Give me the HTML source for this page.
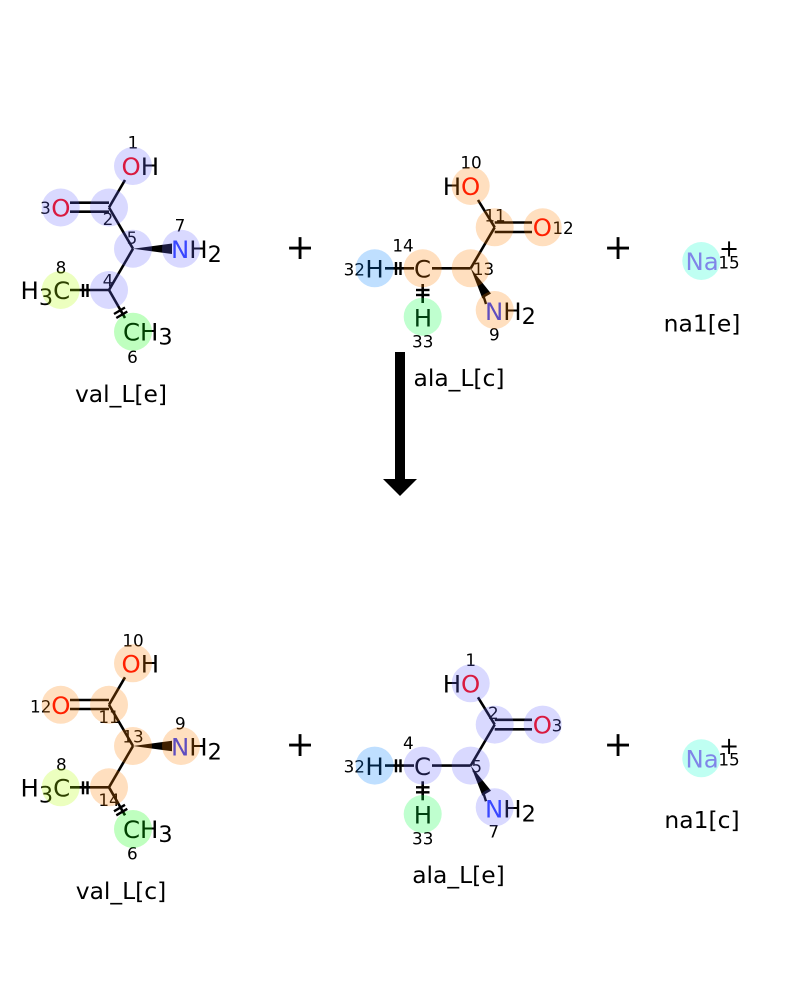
<!DOCTYPE html>
<html>
<head>
<meta charset="utf-8">
<style>
html,body{margin:0;padding:0;background:#fff;}
svg{display:block;}
text{font-family:"DejaVu Sans","Liberation Sans",sans-serif;fill:#000;}
.a{font-size:24.4px;}
.s{font-size:22.4px;}
.n{font-size:16.8px;text-anchor:middle;}
.l{font-size:23.4px;text-anchor:middle;}
.p{font-size:35px;text-anchor:middle;}
.O{fill:#ff0000;}
.N{fill:#2a3cff;}
.Na{fill:#ab5cf2;}
line{stroke:#000;stroke-width:2.6;fill:none;}
.t{stroke-width:2.4;}
circle{fill-opacity:.25;}
.v{fill:#6767ff;}
.o{fill:#ff7f00;}
.y{fill:#b3ff00;}
.g{fill:#00ff00;}
.b{fill:#007fff;}
.h{fill:#00ff40;}
.c{fill:#00ffcc;}
</style>
</head>
<body>
<svg width="800" height="1000" viewBox="0 0 800 1000" xmlns="http://www.w3.org/2000/svg">
<rect width="800" height="1000" fill="#fff"/>
<defs>
<g id="m1">
<line x1="125" y1="180" x2="109" y2="207.5"/>
<line x1="70" y1="202.7" x2="109" y2="202.7"/>
<line x1="70" y1="211.7" x2="109" y2="211.7"/>
<line x1="109" y1="207.5" x2="133" y2="248.7"/>
<line x1="133" y1="248.7" x2="109" y2="290"/>
<polygon points="133,248.7 172,243.5 172,254" fill="#000"/>
<line x1="109" y1="290" x2="70" y2="290"/>
<line class="t" x1="83" y1="284" x2="83" y2="297"/>
<line class="t" x1="87.5" y1="284" x2="87.5" y2="297"/>
<line x1="109" y1="290" x2="125" y2="318"/>
<line class="t" x1="114" y1="314" x2="125" y2="307.5"/>
<line class="t" x1="116.3" y1="318" x2="127.3" y2="311.5"/>
</g>
<g id="m2">
<line x1="478" y1="200" x2="494.7" y2="227.3"/>
<line x1="494.7" y1="222.5" x2="532" y2="222.5"/>
<line x1="494.7" y1="232" x2="532" y2="232"/>
<line x1="494.7" y1="227.3" x2="470.7" y2="268.3"/>
<line x1="470.7" y1="268.3" x2="432" y2="268.3"/>
<polygon points="470.7,268.3 491,293.5 482.4,298.5" fill="#000"/>
<line x1="482.5" y1="293" x2="486" y2="304" class="t"/>
<line x1="414" y1="268.3" x2="385" y2="268.3"/>
<line class="t" x1="396" y1="262" x2="396" y2="275"/>
<line class="t" x1="400.5" y1="262" x2="400.5" y2="275"/>
<line x1="422.7" y1="284" x2="422.7" y2="303"/>
<line class="t" x1="416" y1="290" x2="429.5" y2="290"/>
<line class="t" x1="416" y1="295" x2="429.5" y2="295"/>
</g>
</defs>

<!-- top left: val_L[e] -->
<use href="#m1"/>
<text class="a" x="121.5" y="175"><tspan class="O">O</tspan>H</text>
<text class="a O" x="51.3" y="216.5">O</text>
<text class="a" x="171" y="258"><tspan class="N">N</tspan>H<tspan class="s" dy="4">2</tspan></text>
<text class="a" x="20.5" y="299">H<tspan class="s" dy="6">3</tspan><tspan dy="-6">C</tspan></text>
<text class="a" x="123" y="340.7">CH<tspan class="s" dy="4">3</tspan></text>
<text class="n" x="133" y="148.5">1</text>
<text class="n" x="45.5" y="214">3</text>
<text class="n" x="108" y="225">2</text>
<text class="n" x="132" y="244">5</text>
<text class="n" x="180" y="231.7">7</text>
<text class="n" x="108" y="286.7">4</text>
<text class="n" x="61" y="273.3">8</text>
<text class="n" x="132.5" y="363">6</text>
<circle class="v" cx="133" cy="166" r="19"/>
<circle class="v" cx="109" cy="207.5" r="19"/>
<circle class="v" cx="60.7" cy="207.5" r="19"/>
<circle class="v" cx="133" cy="248.7" r="19"/>
<circle class="v" cx="181" cy="248.7" r="19"/>
<circle class="v" cx="109" cy="290" r="19"/>
<circle class="y" cx="60.7" cy="290" r="19"/>
<circle class="g" cx="133" cy="331.7" r="19"/>
<text class="l" x="121" y="402">val_L[e]</text>

<text class="p" x="300" y="259">+</text>

<!-- top middle: ala_L[c] -->
<use href="#m2"/>
<text class="a" x="442.7" y="195">H<tspan class="O">O</tspan></text>
<text class="a O" x="532.7" y="236">O</text>
<text class="a" x="414" y="277.5">C</text>
<text class="a" x="365.4" y="277.5">H</text>
<text class="a" x="413.7" y="326.3">H</text>
<text class="a" x="485" y="320"><tspan class="N">N</tspan>H<tspan class="s" dy="4">2</tspan></text>
<text class="n" x="471" y="168.5">10</text>
<text class="n" x="495" y="221.7">11</text>
<text class="n" x="563" y="234">12</text>
<text class="n" x="483.5" y="275">13</text>
<text class="n" x="494.3" y="340.7">9</text>
<text class="n" x="403" y="251.7">14</text>
<text class="n" x="354.3" y="275.5">32</text>
<text class="n" x="422.7" y="347.5">33</text>
<circle class="o" cx="470.7" cy="186" r="19"/>
<circle class="o" cx="494.7" cy="227.3" r="19"/>
<circle class="o" cx="542.7" cy="227.3" r="19"/>
<circle class="o" cx="470.7" cy="268.3" r="19"/>
<circle class="o" cx="494.7" cy="310" r="19"/>
<circle class="o" cx="422.7" cy="268.3" r="19"/>
<circle class="b" cx="374.7" cy="268.3" r="19"/>
<circle class="h" cx="422.7" cy="316.7" r="19"/>
<text class="l" x="459" y="386">ala_L[c]</text>

<text class="p" x="618" y="259">+</text>

<!-- top right: na1[e] -->
<text class="a Na" x="685.5" y="270">Na</text>
<text class="s" x="729" y="256.5" text-anchor="middle" style="font-size:24px">+</text>
<text class="n" x="729" y="268.3">15</text>
<circle class="c" cx="701.3" cy="261" r="19"/>
<text class="l" x="702" y="331.5">na1[e]</text>

<!-- arrow -->
<rect x="395" y="352" width="10" height="128" fill="#000"/>
<polygon points="383,479 417,479 400,496" fill="#000"/>

<!-- bottom left: val_L[c] -->
<g transform="translate(0,497.3)"><use href="#m1"/></g>
<text class="a" x="121.5" y="672.3"><tspan class="O">O</tspan>H</text>
<text class="a O" x="51.3" y="713.8">O</text>
<text class="a" x="171" y="755.3"><tspan class="N">N</tspan>H<tspan class="s" dy="4">2</tspan></text>
<text class="a" x="20.5" y="796.3">H<tspan class="s" dy="6">3</tspan><tspan dy="-6">C</tspan></text>
<text class="a" x="123" y="838">CH<tspan class="s" dy="4">3</tspan></text>
<text class="n" x="133" y="646.7">10</text>
<text class="n" x="40.7" y="712.3">12</text>
<text class="n" x="109" y="723">11</text>
<text class="n" x="133" y="742.3">13</text>
<text class="n" x="180.3" y="729.3">9</text>
<text class="n" x="61.3" y="770.7">8</text>
<text class="n" x="109" y="806">14</text>
<text class="n" x="132.3" y="859.5">6</text>
<circle class="o" cx="133" cy="663.3" r="19"/>
<circle class="o" cx="109" cy="704.8" r="19"/>
<circle class="o" cx="60.7" cy="704.8" r="19"/>
<circle class="o" cx="133" cy="746" r="19"/>
<circle class="o" cx="181" cy="746" r="19"/>
<circle class="o" cx="109" cy="787.3" r="19"/>
<circle class="y" cx="60.7" cy="787.3" r="19"/>
<circle class="g" cx="133" cy="829" r="19"/>
<text class="l" x="121" y="899">val_L[c]</text>

<text class="p" x="300" y="756">+</text>

<!-- bottom middle: ala_L[e] -->
<g transform="translate(0,497.3)"><use href="#m2"/></g>
<text class="a" x="442.7" y="692.3">H<tspan class="O">O</tspan></text>
<text class="a O" x="532.7" y="733.3">O</text>
<text class="a" x="414" y="774.8">C</text>
<text class="a" x="365.4" y="774.8">H</text>
<text class="a" x="413.7" y="823.6">H</text>
<text class="a" x="485" y="817.3"><tspan class="N">N</tspan>H<tspan class="s" dy="4">2</tspan></text>
<text class="n" x="470.7" y="666">1</text>
<text class="n" x="493.3" y="719">2</text>
<text class="n" x="557" y="731.7">3</text>
<text class="n" x="476.7" y="772.7">5</text>
<text class="n" x="493.7" y="837.7">7</text>
<text class="n" x="408.3" y="749">4</text>
<text class="n" x="354.3" y="772.7">32</text>
<text class="n" x="422.7" y="844.7">33</text>
<circle class="v" cx="470.7" cy="683.3" r="19"/>
<circle class="v" cx="494.7" cy="724.6" r="19"/>
<circle class="v" cx="542.7" cy="724.6" r="19"/>
<circle class="v" cx="470.7" cy="765.6" r="19"/>
<circle class="v" cx="494.7" cy="807.3" r="19"/>
<circle class="v" cx="422.7" cy="765.6" r="19"/>
<circle class="b" cx="374.7" cy="765.6" r="19"/>
<circle class="h" cx="422.7" cy="814" r="19"/>
<text class="l" x="458.5" y="883">ala_L[e]</text>

<text class="p" x="618" y="756">+</text>

<!-- bottom right: na1[c] -->
<text class="a Na" x="685.5" y="767.3">Na</text>
<text class="s" x="729" y="753.8" text-anchor="middle" style="font-size:24px">+</text>
<text class="n" x="729" y="765.6">15</text>
<circle class="c" cx="701.3" cy="758.3" r="19"/>
<text class="l" x="702" y="828">na1[c]</text>
</svg>
</body>
</html>
